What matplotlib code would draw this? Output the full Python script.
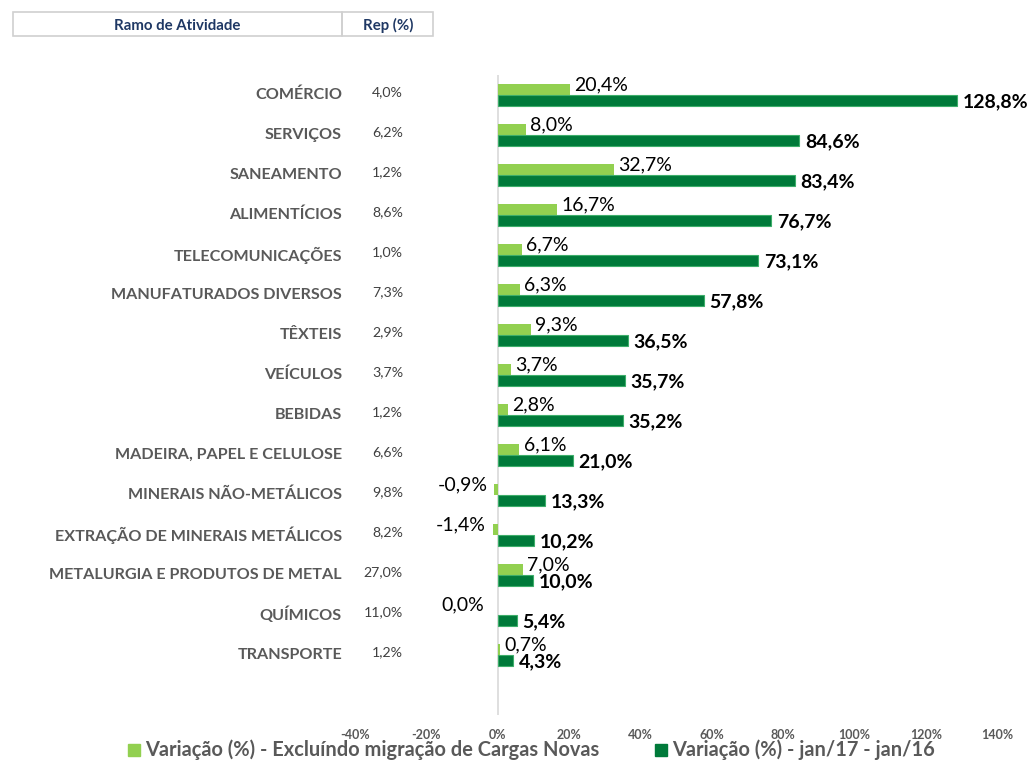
import matplotlib
matplotlib.use("Agg")
import matplotlib.pyplot as plt
from matplotlib.patches import Rectangle
import matplotlib.transforms as mtransforms

plt.rcParams['font.family'] = ['Lato', 'DejaVu Sans']

categories = ["COMÉRCIO", "SERVIÇOS", "SANEAMENTO", "ALIMENTÍCIOS", "TELECOMUNICAÇÕES",
              "MANUFATURADOS DIVERSOS", "TÊXTEIS", "VEÍCULOS", "BEBIDAS",
              "MADEIRA, PAPEL E CELULOSE", "MINERAIS NÃO-METÁLICOS",
              "EXTRAÇÃO DE MINERAIS METÁLICOS", "METALURGIA E PRODUTOS DE METAL",
              "QUÍMICOS", "TRANSPORTE"]
rep = [4.0, 6.2, 1.2, 8.6, 1.0, 7.3, 2.9, 3.7, 1.2, 6.6, 9.8, 8.2, 27.0, 11.0, 1.2]
var_excl = [20.4, 8.0, 32.7, 16.7, 6.7, 6.3, 9.3, 3.7, 2.8, 6.1, -0.9, -1.4, 7.0, 0.0, 0.7]
var_total = [128.8, 84.6, 83.4, 76.7, 73.1, 57.8, 36.5, 35.7, 35.2, 21.0, 13.3, 10.2, 10.0, 5.4, 4.3]
xticks = [-40, -20, 0, 20, 40, 60, 80, 100, 120, 140]
legend_labels = ["Variação (%) - Excluíndo migração de Cargas Novas",
                 "Variação (%) - jan/17 - jan/16"]

LIGHT = "#92D050"
DARK = "#007A3A"
DARK_EDGE = "#3DAE6A"
GRAY = "#595959"

def fmt(v):
    return f"{v:.1f}".replace(".", ",") + "%"

W, H = 1027, 761
fig = plt.figure(figsize=(W / 100, H / 100), dpi=100)
ax = fig.add_axes([355 / W, 1 - 715 / H, 642 / W, 640 / H])
ax.set_xlim(-40, 140)
ax.set_ylim(15.5, -0.5)
for s in ax.spines.values():
    s.set_visible(False)
ax.axvline(0, color="#D9D9D9", lw=1.2, zorder=0)

ypos = list(range(len(categories)))
bh = 0.275
off = 0.1375
ax.barh([y - off for y in ypos], var_excl, height=bh, color=LIGHT, zorder=2)
ax.barh([y + off for y in ypos], var_total, height=bh, color=DARK,
        edgecolor=DARK_EDGE, linewidth=0.8, zorder=2)

for y, v in zip(ypos, var_excl):
    if v > 0:
        ax.annotate(fmt(v), (v, y - off), xytext=(3, 3), textcoords="offset points",
                    ha="left", va="center", fontsize=14, color="black")
    else:
        ax.annotate(fmt(v), (v, y - off), xytext=(-5 if v < 0 else -10, 3),
                    textcoords="offset points",
                    ha="right", va="center", fontsize=14, color="black")

for y, v in zip(ypos, var_total):
    ax.annotate(fmt(v), (v, y + off), xytext=(4, -1), textcoords="offset points",
                ha="left", va="center", fontsize=14, fontweight="bold", color="black")

ax.set_yticks([])
ax.set_xticks(xticks)
ax.set_xticklabels([f"{t}%" for t in xticks], fontsize=9, fontweight="bold", color=GRAY)
ax.tick_params(axis="x", length=0, pad=10)

trans = mtransforms.blended_transform_factory(fig.transFigure, ax.transData)
for y, c, r in zip(ypos, categories, rep):
    fig.text(342 / W, y, c, transform=trans, ha="right", va="center",
             fontsize=11.6, fontweight="bold", color=GRAY)
    fig.text(403 / W, y - 0.08, fmt(r), transform=trans, ha="right", va="center",
             fontsize=10.2, color="#404040")

# header table
fig.patches.append(Rectangle((13 / W, 1 - 36 / H), (342 - 13) / W, 24 / H,
                             transform=fig.transFigure, fill=False,
                             edgecolor="#D0D0D0", lw=1.2))
fig.patches.append(Rectangle((342 / W, 1 - 36 / H), (433 - 342) / W, 24 / H,
                             transform=fig.transFigure, fill=False,
                             edgecolor="#D0D0D0", lw=1.2))
fig.text(177 / W, 1 - 25.5 / H, "Ramo de Atividade", ha="center", va="center",
         fontsize=10.8, fontweight="bold", color="#1F3864")
fig.text(388 / W, 1 - 25.5 / H, "Rep (%)", ha="center", va="center",
         fontsize=10.8, fontweight="bold", color="#1F3864")

# legend
for (x0, col, lab) in [(128, LIGHT, legend_labels[0]), (655, DARK, legend_labels[1])]:
    fig.patches.append(Rectangle((x0 / W, 1 - 756 / H), 12 / W, 12 / H,
                                 transform=fig.transFigure, color=col))
    fig.text((x0 + 17) / W, 1 - 750 / H, lab, ha="left", va="center",
             fontsize=14.4, fontweight="bold", color=GRAY)

fig.savefig("out.png", dpi=100)
